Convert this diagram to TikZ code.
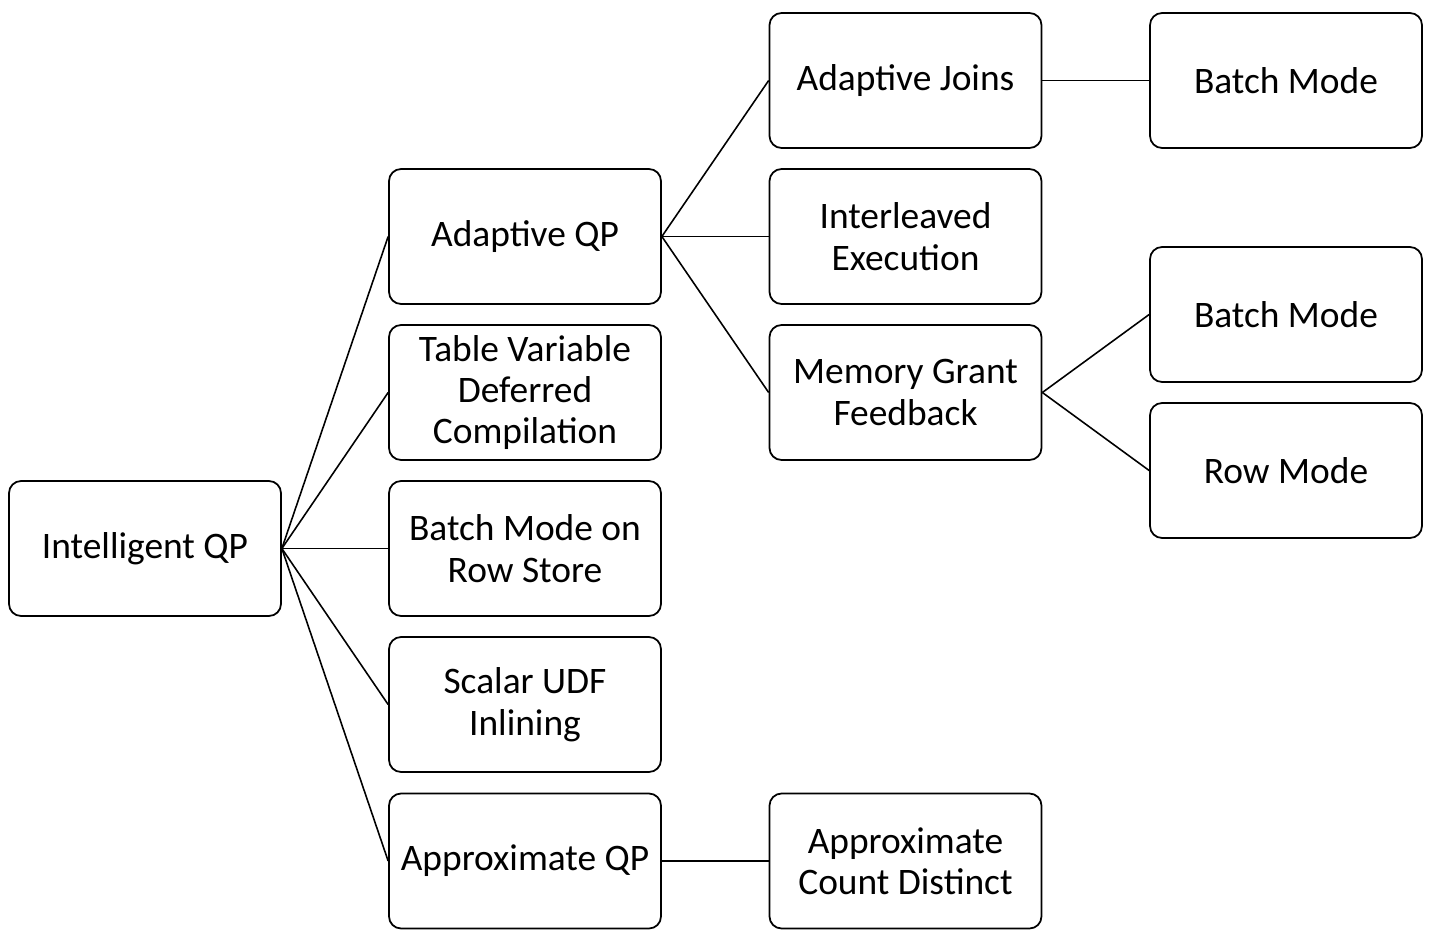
\documentclass[tikz,border=0pt]{standalone}
\usepackage{fontspec}
\setmainfont{Carlito}
\usetikzlibrary{positioning}
\begin{document}
\begin{tikzpicture}[x=0.02cm, y=-0.02cm,
        box/.style = {draw, rounded corners=0.24cm, minimum width=5.44cm, minimum height=2.7cm,
                      inner sep=0, align=center, line width=1pt, font=\fontsize{21.3}{23.6}\selectfont},
        edge/.style = {line width=0.9pt},
        ]
        \useasboundingbox (0,0) rectangle (1433,937);
        % root
        \node[box](iqp) at (145,548.5) {Intelligent QP};
        % second column
        \node[box](aqp) at (525,236.5) {Adaptive QP};
        \node[box](tvd) at (525,392.5) {Table Variable\\Deferred\\Compilation};
        \node[box](bmr) at (525,548.5) {Batch Mode on\\Row Store};
        \node[box](udf) at (525,704.5) {Scalar UDF\\Inlining};
        \node[box](apx) at (525,861) {Approximate QP};
        % third column
        \node[box](aj) at (905.5,80.5) {Adaptive Joins};
        \node[box](ie) at (905.5,236.5) {Interleaved\\Execution};
        \node[box](mgf) at (905.5,392.5) {Memory Grant\\Feedback};
        \node[box](acd) at (905.5,861) {Approximate\\Count Distinct};
        % fourth column
        \node[box](bm0) at (1286,80.5) {Batch Mode};
        \node[box](bm1) at (1286,314.5) {Batch Mode};
        \node[box](rm) at (1286,470.5) {Row Mode};
        % connectors
        \foreach \c in {aqp,tvd,bmr,udf,apx}
            \draw[edge] (iqp.east) -- (\c.west);
        \foreach \c in {aj,ie,mgf}
            \draw[edge] (aqp.east) -- (\c.west);
        \draw[edge] (apx.east) -- (acd.west);
        \draw[edge] (aj.east) -- (bm0.west);
        \draw[edge] (mgf.east) -- (bm1.west);
        \draw[edge] (mgf.east) -- (rm.west);
\end{tikzpicture}
\end{document}
